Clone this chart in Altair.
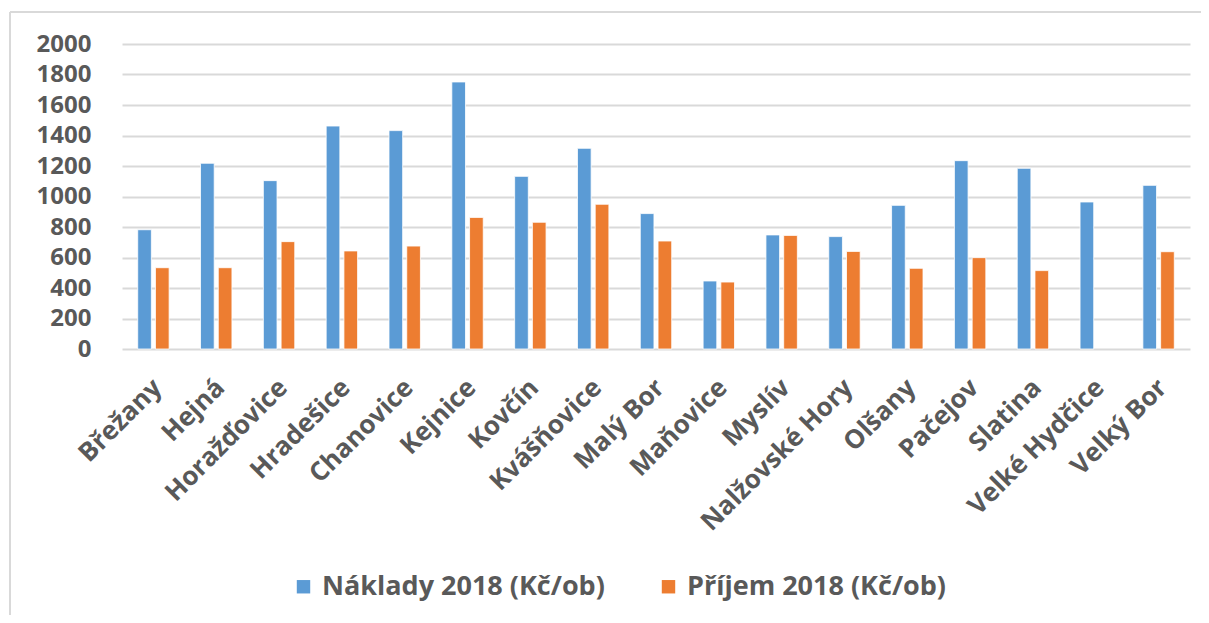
import altair as alt
import pandas as pd

categories = ["Břežany", "Hejná", "Horažďovice", "Hradešice", "Chanovice", "Kejnice",
              "Kovčín", "Kvášňovice", "Malý Bor", "Maňovice", "Myslív", "Nalžovské Hory",
              "Olšany", "Pačejov", "Slatina", "Velké Hydčice", "Velký Bor"]
naklady = [782, 1218, 1104, 1462, 1432, 1751, 1132, 1316, 888, 446, 748, 737,
           942, 1235, 1185, 964, 1073]
prijem = [533, 533, 704, 643, 675, 863, 831, 949, 708, 439, 745, 640,
          529, 599, 514, None, 638]
series = ["Náklady 2018 (Kč/ob)", "Příjem 2018 (Kč/ob)"]
colors = ["#5B9BD5", "#ED7D31"]
y_ticks = list(range(0, 2001, 200))

rows = []
for c, n, p in zip(categories, naklady, prijem):
    rows.append({"obec": c, "serie": series[0], "hodnota": n})
    if p is not None:
        rows.append({"obec": c, "serie": series[1], "hodnota": p})
df = pd.DataFrame(rows)

FONT = "Open Sans"
GREY = "#595959"

bars = alt.Chart(df).mark_bar(stroke="white", strokeWidth=0.8).encode(
    x=alt.X("obec:N", sort=categories,
            scale=alt.Scale(paddingInner=0.5, paddingOuter=0.25),
            axis=alt.Axis(title=None, labelAngle=-45, labelAlign="right",
                          labelBaseline="top", labelPadding=25, labelOffset=-5,
                          ticks=False, domain=False, labelFont=FONT,
                          labelFontWeight="bold", labelFontSize=26,
                          labelColor=GREY, labelLimit=400)),
    xOffset=alt.XOffset("serie:N", sort=series,
                        scale=alt.Scale(paddingInner=0.23, paddingOuter=0)),
    y=alt.Y("hodnota:Q", scale=alt.Scale(domain=[0, 2000], nice=False),
            axis=alt.Axis(title=None, values=y_ticks, format="d", ticks=False,
                          domain=False, labelFont=FONT, labelFontWeight="bold",
                          labelFontSize=24, labelColor=GREY, labelPadding=31,
                          gridColor="#d9d9d9", gridWidth=2)),
    color=alt.Color("serie:N", sort=series,
                    scale=alt.Scale(domain=series, range=colors),
                    legend=alt.Legend(title=None, orient="none", legendX=168, legendY=529,
                                      direction="horizontal", symbolType="square",
                                      symbolSize=180, symbolStrokeWidth=0,
                                      labelFont=FONT, labelFontWeight="bold",
                                      labelFontSize=27, labelColor=GREY,
                                      labelOffset=5, columnPadding=50, labelLimit=500)),
)

one = pd.DataFrame({"a": [0]})
border_top = alt.Chart(one).mark_rule(color="#d9d9d9", strokeWidth=2).encode(
    x=alt.value(-112), x2=alt.value(1100), y=alt.value(-32))
border_left = alt.Chart(one).mark_rule(color="#d9d9d9", strokeWidth=2).encode(
    x=alt.value(-112), y=alt.value(-32), y2=alt.value(620))

chart = alt.layer(border_top, border_left, bars).properties(
    width=1068, height=305,
    autosize=alt.AutoSizeParams(type="none"),
    padding={"left": 114, "top": 36, "right": 11, "bottom": 266},
    background="white",
).configure_view(stroke=None)

chart.save("out.html", embed_options={"renderer": "svg", "actions": False})
